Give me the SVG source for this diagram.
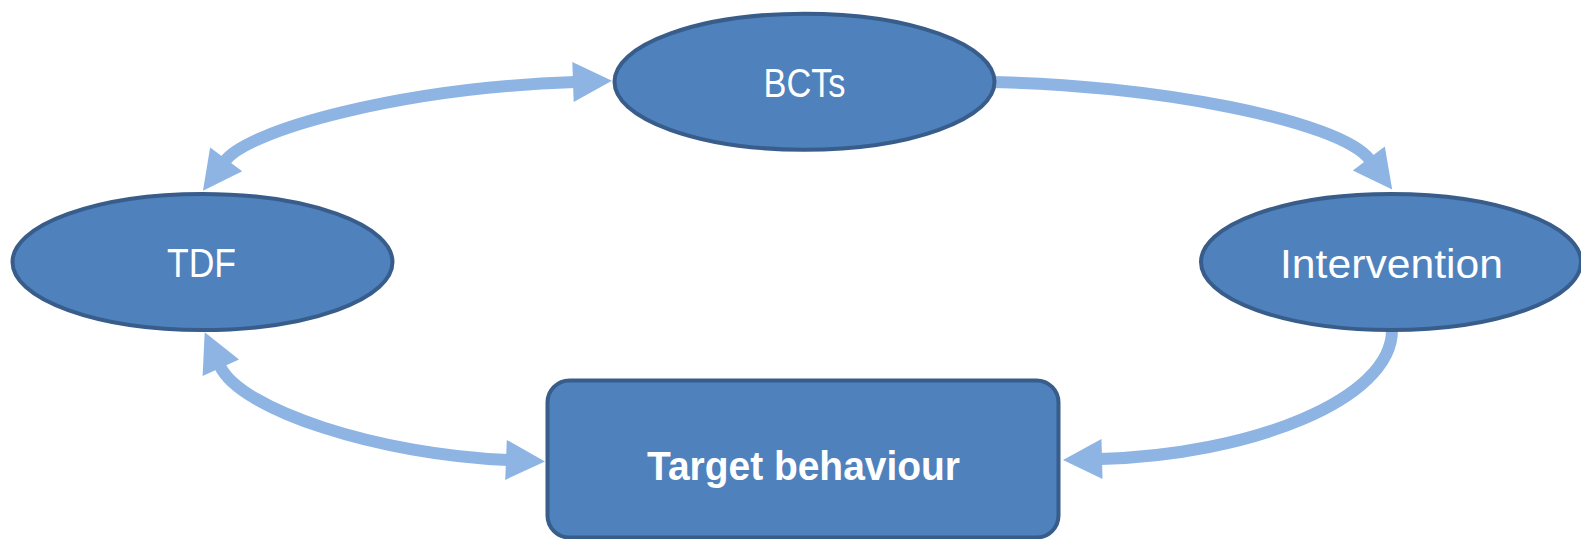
<svg xmlns="http://www.w3.org/2000/svg" width="1581" height="539" viewBox="0 0 1581 539">
<style>
.node{fill:#4F81BD;stroke:#385D8A;stroke-width:4}
.lbl{font-family:"Liberation Sans",Arial,sans-serif;font-size:40px;fill:#FFFFFF;text-anchor:middle}
.bold{font-weight:bold}
.conn{fill:none;stroke:#8EB4E3;stroke-width:12}
</style>
<defs>
<marker id="ah" markerUnits="userSpaceOnUse" viewBox="0 0 40 42" markerWidth="40" markerHeight="42" refX="2" refY="21" orient="auto-start-reverse" overflow="visible">
<path d="M0,1 L39,21 L0,41 Z" fill="#8EB4E3"/>
</marker>
</defs>
<rect width="1581" height="539" fill="#FFFFFF"/>
<g id="connectors">
<path class="conn" d="M 225 161 C 248 130, 400 88, 575 82" marker-start="url(#ah)" marker-end="url(#ah)"/>
<path class="conn" d="M 988 82 C 1150 84, 1340 120, 1370 160" marker-end="url(#ah)"/>
<path class="conn" d="M 220 366 C 240 410, 380 455, 508 460" marker-start="url(#ah)" marker-end="url(#ah)"/>
<path class="conn" d="M 1392 330 C 1392 400, 1250 455, 1100 459" marker-end="url(#ah)"/>
</g>
<g id="bcts">
<ellipse class="node" cx="804.5" cy="81.7" rx="190" ry="68"/>
<text class="lbl" x="804.5" y="97" textLength="82" lengthAdjust="spacingAndGlyphs">BCTs</text>
</g>
<g id="tdf">
<ellipse class="node" cx="202.5" cy="262" rx="190" ry="68"/>
<text class="lbl" x="201.5" y="277" textLength="69" lengthAdjust="spacingAndGlyphs">TDF</text>
</g>
<g id="intervention">
<ellipse class="node" cx="1391" cy="262" rx="190" ry="68"/>
<text class="lbl" x="1391.5" y="278" textLength="223" lengthAdjust="spacingAndGlyphs">Intervention</text>
</g>
<g id="target">
<rect class="node" x="547.5" y="380.5" width="511" height="157" rx="22" ry="22"/>
<text class="lbl bold" x="803.5" y="480" textLength="313" lengthAdjust="spacingAndGlyphs">Target behaviour</text>
</g>
</svg>
